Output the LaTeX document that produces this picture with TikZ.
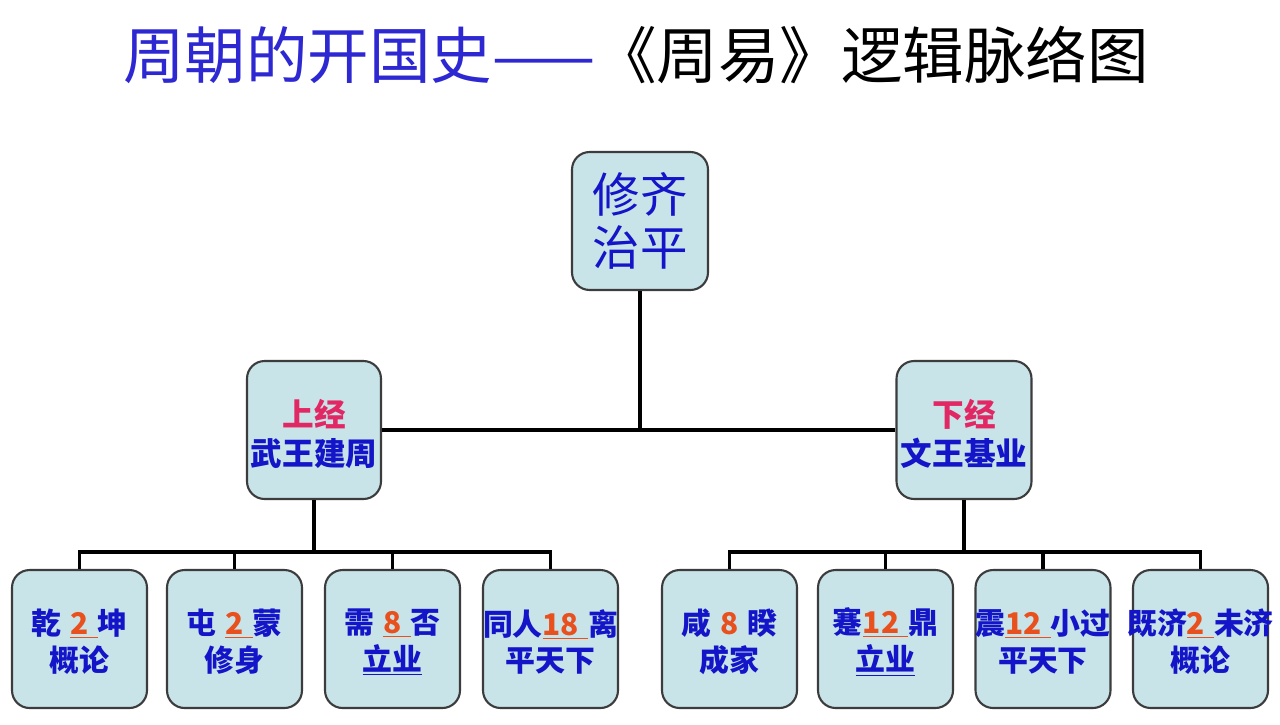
\documentclass[tikz,border=0pt]{standalone}
\usepackage{fontspec}
\setmainfont{Liberation Sans}
\newfontfamily\cjk{Noto Sans CJK SC}
\definecolor{boxfill}{RGB}{200,228,232}
\definecolor{boxline}{RGB}{60,60,60}
\definecolor{txtblue}{RGB}{20,20,200}
\definecolor{titleblue}{RGB}{45,40,210}
\definecolor{redc}{RGB}{225,40,100}
\definecolor{numc}{RGB}{232,80,30}
\newcommand{\dnum}[1]{\textcolor{numc}{\underline{\textbf{#1}\hspace{0.3em}}}}
\newcommand{\dnumb}[1]{\textcolor{numc}{\textbf{#1}}}
\tikzset{
  box/.style={draw=boxline, line width=1.2pt, fill=boxfill, rounded corners=10pt,
    minimum width=2.7cm, minimum height=2.76cm, inner sep=0pt},
  txt/.style={text=txtblue, align=center, inner sep=0pt,
    font=\cjk\bfseries\fontsize{17}{21}\selectfont},
  mtxt/.style={text=txtblue, align=center, inner sep=0pt,
    font=\cjk\bfseries\fontsize{18}{22}\selectfont},
  conn/.style={line width=1.8pt, draw=black}
}
\begin{document}
\begin{tikzpicture}[x=0.02cm,y=-0.02cm]
\useasboundingbox[fill=white] (0,0) rectangle (1280,724);
% title
\node[inner sep=0pt, font=\cjk\fontsize{35}{38}\selectfont] (title) at (636,55)
  {\textcolor{titleblue}{周朝的开国史——}《周易》逻辑脉络图};
% top
\node[box, minimum width=2.72cm] (top) at (640,221) {};
\node[text=txtblue, align=center, inner sep=0pt, font=\cjk\fontsize{27}{30}\selectfont] (ttop) at (640,221) {修齐\\治平};
% middle
\node[box, minimum width=2.68cm] (L) at (314,430) {};
\node[box, minimum width=2.7cm] (R) at (964,430) {};
\node[mtxt] (tL) at (314,434) {\textcolor{redc}{上经}\\武王建周};
\node[mtxt] (tR) at (964,434) {\textcolor{redc}{下经}\\文王基业};
% bottom boxes
\node[box] (b1) at (79.5,639) {};
\node[box] (b2) at (234.5,639) {};
\node[box] (b3) at (392.5,639) {};
\node[box] (b4) at (550.5,639) {};
\node[box] (b5) at (729.5,639) {};
\node[box] (b6) at (885.5,639) {};
\node[box] (b7) at (1043,639) {};
\node[box] (b8) at (1200.5,639) {};
\node[txt] (t1) at (79.5,642) {乾\hspace{0.3em}\dnum{2}坤\\概论};
\node[txt] (t2) at (234.5,642) {屯\hspace{0.3em}\dnum{2}蒙\\修身};
\node[txt] (t3) at (392.5,642) {需\hspace{0.3em}\dnum{8}否\\\underline{立业}};
\node[txt] (t4) at (550.5,642) {同人\dnum{18}离\\平天下};
\node[txt] (t5) at (729.5,642) {咸\hspace{0.3em}\dnumb{8}\hspace{0.3em}睽\\成家};
\node[txt] (t6) at (885.5,642) {蹇\dnum{12}鼎\\\underline{立业}};
\node[txt] (t7) at (1043,642) {震\dnum{12}小过\\平天下};
\node[txt] (t8) at (1200.5,642) {既济\dnum{2}未济\\概论};
% connectors
\coordinate (j0) at (640,430);
\draw[conn] (top.south) -- (j0);
\draw[conn] (L.east) -- (R.west);
\coordinate (jl) at (314,552);
\coordinate (jr) at (964,552);
\draw[conn] (L.south) -- (jl);
\draw[conn] (R.south) -- (jr);
\draw[conn] (b1.north) |- (b4.north |- jl) -- (b4.north);
\draw[conn] (b2.north) -- (b2.north |- jl);
\draw[conn] (b3.north) -- (b3.north |- jl);
\draw[conn] (b5.north) |- (b8.north |- jr) -- (b8.north);
\draw[conn] (b6.north) -- (b6.north |- jr);
\draw[conn] (b7.north) -- (b7.north |- jr);
\end{tikzpicture}
\end{document}
